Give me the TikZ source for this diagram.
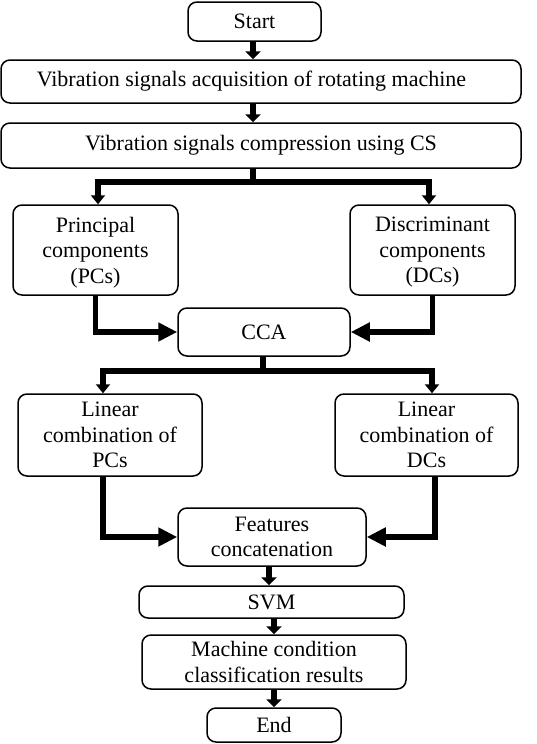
\documentclass[tikz,border=0pt]{standalone}
\usepackage{fontspec}
\setmainfont{Liberation Serif}
\usetikzlibrary{arrows.meta}
\begin{document}
\begin{tikzpicture}[x=1pt,y=-1pt,
  box/.style={draw=black,line width=1.5pt,rounded corners=9pt,align=center,inner sep=0pt,
    font=\fontsize{22}{25.5}\selectfont},
  mbox/.style={box,text depth=0pt},
  sarrow/.style={line width=5.5pt,-{Triangle[length=8pt,width=15pt]}},
  barrow/.style={line width=5.5pt,-{Triangle[length=9pt,width=14pt]}},
  harrow/.style={line width=5.5pt,-{Triangle[length=19pt,width=18pt]}},
  thick line/.style={line width=5.5pt}]
\useasboundingbox (0,0) rectangle (537,744);
\node[box,minimum width=133pt,minimum height=39pt] (start) at (254.5,21.5) {Start};
\node[box,minimum width=520pt,minimum height=43pt] (vib1) at (261,81.5) {Vibration signals acquisition of rotating machine\hspace*{19pt}};
\node[box,minimum width=520pt,minimum height=45pt] (vib2) at (261,145.5) {Vibration signals compression using CS};
\node[mbox,minimum width=165pt,minimum height=90pt] (pc) at (95.5,250) {Principal\\components\\(PCs)};
\node[mbox,minimum width=165pt,minimum height=90pt] (dc) at (432.5,250) {Discriminant\\components\\(DCs)};
\node[box,minimum width=172pt,minimum height=48pt] (cca) at (264,332) {CCA};
\node[mbox,minimum width=184pt,minimum height=82pt] (lpc) at (110,435) {Linear\\combination of\\PCs};
\node[mbox,minimum width=183pt,minimum height=82pt] (ldc) at (426.5,435) {Linear\\combination of\\DCs};
\node[mbox,minimum width=188pt,minimum height=58pt] (feat) at (272,537) {Features\\concatenation};
\node[box,minimum width=265pt,minimum height=32pt] (svm) at (271.5,602) {SVM};
\node[mbox,minimum width=264pt,minimum height=54pt] (mc) at (274,662) {Machine condition\\classification results};
\node[box,minimum width=134pt,minimum height=34pt] (end) at (274,725) {End};
\coordinate (b1) at (253,182);
\coordinate (b2) at (263,371);
% connectors
\draw[sarrow] ([xshift=-1.5pt]start.south) -- ([xshift=-1.5pt]start.south |- vib1.north);
\draw[sarrow] ([xshift=-1.5pt]start.south |- vib1.south) -- ([xshift=-1.5pt]start.south |- vib2.north);
\draw[thick line] (vib2.south -| b1) -- (b1);
\draw[barrow] ([xshift=1pt]b1) -| ([xshift=2.5pt]pc.north);
\draw[barrow] ([xshift=-1pt]b1) -| ([xshift=-3.5pt]dc.north);
\draw[harrow] (pc.south) |- (cca.west);
\draw[harrow] (dc.south) |- (cca.east);
\draw[thick line] (cca.south -| b2) -- (b2);
\draw[barrow] ([xshift=1pt]b2) -| ([xshift=-7pt]lpc.north);
\draw[barrow] ([xshift=-1pt]b2) -| ([xshift=5.5pt]ldc.north);
\draw[harrow] ([xshift=-7pt]lpc.south) |- (feat.west);
\draw[harrow] ([xshift=8.5pt]ldc.south) |- (feat.east);
\draw[sarrow] ([xshift=-3pt]feat.south) -- ([xshift=-3pt]feat.south |- svm.north);
\draw[sarrow] (mc.north |- svm.south) -- (mc.north);
\draw[sarrow] (mc.south) -- (end.north);
\end{tikzpicture}
\end{document}
